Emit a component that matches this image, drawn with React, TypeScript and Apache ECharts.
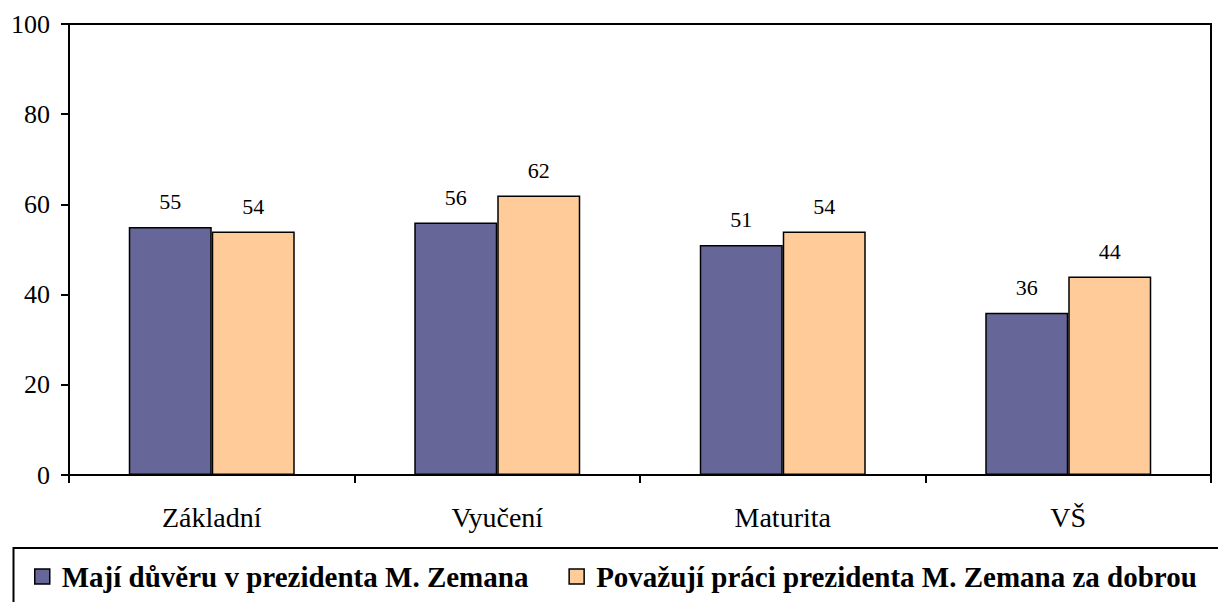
import React, { useEffect, useRef } from "react";
import * as echarts from "echarts";

const categories = ["Základní", "Vyučení", "Maturita", "VŠ"];
const seriesNames = [
  "Mají důvěru v prezidenta M. Zemana",
  "Považují práci prezidenta M. Zemana za dobrou",
];
const trustValues = [55, 56, 51, 36];
const workValues = [54, 62, 54, 44];
const colors = ["#666699", "#FFCC99"];

const FONT = "serif";

export default function App() {
  const ref = useRef<HTMLDivElement>(null);
  useEffect(() => {
    if (!ref.current) return;
    const chart = echarts.init(ref.current, null, { renderer: "svg" });
    const mkSeries = (name: string, data: number[], color: string) => ({
      name,
      type: "bar",
      data,
      barWidth: 83,
      barGap: "0%",
      itemStyle: { color, borderColor: "#000", borderWidth: 1.5 },
      label: {
        show: true,
        position: "top",
        distance: 14,
        color: "#000",
        fontFamily: FONT,
        fontSize: 22,
      },
    });
    chart.setOption({
      animation: false,
      backgroundColor: "#fff",
      grid: {
        left: 69,
        right: 7,
        top: 24,
        bottom: 127,
        show: true,
        borderColor: "#000",
        borderWidth: 2,
      },
      xAxis: {
        type: "category",
        data: categories,
        axisLine: { lineStyle: { color: "#000", width: 2 } },
        axisTick: { show: true, length: 8, lineStyle: { color: "#000", width: 2 } },
        axisLabel: { color: "#000", fontFamily: FONT, fontSize: 28, margin: 28 },
      },
      yAxis: {
        type: "value",
        min: 0,
        max: 100,
        interval: 20,
        splitLine: { show: false },
        axisLine: { show: true, lineStyle: { color: "#000", width: 2 } },
        axisTick: { show: true, length: 8, lineStyle: { color: "#000", width: 2 } },
        axisLabel: { color: "#000", fontFamily: FONT, fontSize: 26, margin: 19 },
      },
      legend: {
        left: 34,
        top: 562,
        padding: 0,
        itemWidth: 15,
        itemHeight: 15,
        itemGap: 40,
        icon: "rect",
        textStyle: {
          color: "#000",
          fontFamily: FONT,
          fontSize: 29,
          fontWeight: "bold",
          padding: [0, 0, 0, 7],
        },
        data: seriesNames.map((n, i) => ({
          name: n,
          itemStyle: { color: colors[i], borderColor: "#000", borderWidth: 1.5 },
        })),
      },
      graphic: [
        {
          type: "rect",
          shape: { x: 13.5, y: 548, width: 1300, height: 100 },
          style: { fill: "none", stroke: "#000", lineWidth: 2 },
          z: 10,
        },
      ],
      series: [
        mkSeries(seriesNames[0], trustValues, colors[0]),
        mkSeries(seriesNames[1], workValues, colors[1]),
      ],
    });
    return () => chart.dispose();
  }, []);
  return (
    <div
      ref={ref}
      style={{ position: "fixed", left: 0, top: 0, width: 1218, height: 602 }}
    />
  );
}
